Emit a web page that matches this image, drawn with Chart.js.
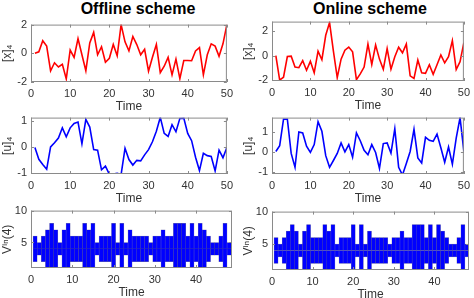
<!DOCTYPE html>
<html>
<head>
<meta charset="utf-8">
<script src="https://cdn.jsdelivr.net/npm/chart.js@4.4.1/dist/chart.umd.min.js"></script>
<style>
  body { margin: 0; background: #fff; width: 474px; height: 298px; position: relative; overflow: hidden; }
  canvas { position: absolute; }
  .title { position: absolute; font: bold 16px "Liberation Sans", Arial, sans-serif; color: #000; text-align: center; width: 200px; line-height: 18px; }
</style>
</head>
<body>
<div class="title" style="left:38px;top:0px">Offline scheme</div>
<div class="title" style="left:270px;top:0px">Online scheme</div>
<canvas id="xOff"></canvas>
<canvas id="xOn"></canvas>
<canvas id="uOff"></canvas>
<canvas id="uOn"></canvas>
<canvas id="vOff"></canvas>
<canvas id="vOn"></canvas>
<script>
// time steps 1..50
const times = Array.from({ length: 50 }, (_, i) => i + 1);

// [x]_4, offline and online
const xOffline = [0.0, 0.1, 0.88, 0.5, -1.22, -0.66, -0.95, -0.77, -1.78, 0.23,
  -0.28, 1.02, -0.1, -1.22, 0.72, 1.46, -0.1, 0.46, -0.62, -0.35,
  0.62, -0.17, 2.0, 0.8, 0.17, 1.17, 0.61, -0.1, 0.28, -1.24,
  -0.28, 0.62, -1.35, -0.9, -0.28, -1.5, -0.4, -1.76, -0.5, -0.5,
  -0.52, 0.17, 0.4, -1.5, -0.1, 0.66, 0.5, -0.21, 0.66, 2.0];
const xOnline = [0.0, -2.0, -1.77, -0.08, -0.05, -0.94, -0.99, -0.42, -1.2, -0.47,
  -1.4, 0.36, -0.34, 1.66, 2.7, 0.36, -1.8, -0.29, 0.44, 0.7,
  0.31, -1.97, -1.5, -0.94, 0.94, -0.73, 0.86, -0.29, -1.12, 0.57,
  -1.12, -0.1, 0.68, 0.23, 0.94, -1.66, -1.87, -0.36, -1.4, -1.45,
  -0.75, -1.53, -0.75, 0.05, -0.6, -0.1, 1.22, -1.14, -0.5, 1.06];

// [u]_4, offline and online
const uOffline = [-0.02, -0.47, -0.67, -0.85, 0.0, 0.16, 0.34, 0.73, 0.39, 0.73,
  0.9, 0.95, 0.12, 1.05, 0.76, -0.1, -0.12, -0.87, -0.73, -1.04,
  -1.03, -1.0, -1.05, -0.05, -0.48, -0.69, -0.51, -0.53, -0.3, -0.1,
  0.2, 0.6, 1.13, 0.52, 0.4, 0.85, 0.58, 1.09, 1.1, 0.52,
  0.24, -0.39, -0.9, -0.24, -0.33, -0.36, -0.91, -0.12, -0.41, -0.02];
const uOnline = [0.02, 0.31, 1.62, 1.62, -0.08, -0.77, 0.99, 0.94, 0.28, -0.03,
  0.36, 1.5, 1.02, -0.19, -0.77, -0.43, -0.08, 0.44, 0.0, 0.36,
  -0.27, 0.94, 0.55, 0.08, -0.14, 0.36, -0.03, -0.82, 0.41, 0.44,
  -0.06, 1.15, -0.77, -1.15, -0.58, 0.02, 1.12, -0.3, -0.55, 0.72,
  0.57, 0.52, 0.88, 0.2, -0.52, 0.24, -0.61, 0.68, 1.7, 0.02];

// V^in(4): interval centre and half-width per time step
const vinCentre = 4;
const vinSteps = Array.from({ length: 48 }, (_, i) => i + 1);
const vinHalf = [2, 1, 2, 3, 4, 3, 1, 3, 4, 2,
  2, 2, 4, 3, 4, 1, 2, 2, 2, 4,
  1, 4, 1, 3, 2, 2, 2, 2, 1, 2,
  2, 3, 2, 2, 4, 4, 4, 2, 4, 2,
  4, 3, 2, 1, 1, 2, 4, 1];

const xTicksLine = [0, 10, 20, 30, 40, 50];
const xTicksBar = [0, 10, 20, 30, 40];

const FONT = '"Liberation Sans", "DejaVu Sans", Arial, sans-serif';
const TXT = '#333';

const boxPlugin = {
  id: 'box',
  afterDraw(chart) {
    const { ctx, chartArea: a, scales: { x, y } } = chart;
    ctx.save();
    ctx.strokeStyle = '#8a8a8a';
    ctx.lineWidth = 1;
    ctx.beginPath();
    x.ticks.forEach(t => {
      const px = Math.round(x.getPixelForValue(t.value)) + 0.5;
      ctx.moveTo(px, a.bottom); ctx.lineTo(px, a.bottom - 3);
      ctx.moveTo(px, a.top); ctx.lineTo(px, a.top + 3);
    });
    y.ticks.forEach(t => {
      const py = Math.round(y.getPixelForValue(t.value)) + 0.5;
      ctx.moveTo(a.left, py); ctx.lineTo(a.left + 3, py);
      ctx.moveTo(a.right, py); ctx.lineTo(a.right - 3, py);
    });
    ctx.stroke();
    ctx.strokeRect(a.left + 0.5, a.top + 0.5, a.width - 1, a.height - 1);
    ctx.restore();
  }
};

function axes(xr, yr, xt, yt, yLabel) {
  return {
    x: {
      type: 'linear', min: xr[0], max: xr[1], offset: false,
      afterBuildTicks: s => { s.ticks = xt.map(v => ({ value: v })); },
      afterFit: s => { s.height = 32; },
      grid: { display: false, drawTicks: false },
      border: { display: false },
      ticks: { padding: 5, color: TXT, font: { family: FONT, size: 11 }, maxRotation: 0, callback: v => String(v) },
      title: { display: true, text: 'Time', color: TXT, font: { family: FONT, size: 12 }, padding: { top: 0, bottom: 0 } }
    },
    y: {
      min: yr[0], max: yr[1],
      afterBuildTicks: s => { s.ticks = yt.map(v => ({ value: v })); },
      afterFit: s => { s.width = 31; },
      grid: { display: false, drawTicks: false },
      border: { display: false },
      ticks: { padding: 4, color: TXT, font: { family: FONT, size: 11 }, callback: v => String(v) },
      title: { display: true, text: yLabel, color: TXT, font: { family: FONT, size: 12 }, padding: { top: 0, bottom: 2 } }
    }
  };
}

function place(id, r) {
  const c = document.getElementById(id);
  c.width = r.r - r.l + 31 + 6;
  c.height = r.b - r.t + 8 + 32;
  c.style.left = (r.l - 31) + 'px';
  c.style.top = (r.t - 8) + 'px';
  return c;
}

function lineChart(id, r, values, color, yr, yt, yLabel) {
  new Chart(place(id, r), {
    type: 'line',
    data: {
      datasets: [{
        data: times.map((t, i) => ({ x: t, y: values[i] })),
        borderColor: color, borderWidth: 1.6, pointRadius: 0, tension: 0, fill: false
      }]
    },
    options: {
      responsive: false, animation: false,
      layout: { padding: { left: 0, right: 6, top: 8, bottom: 0 } },
      plugins: { legend: { display: false }, tooltip: { enabled: false } },
      scales: axes([0, 50], yr, xTicksLine, yt, yLabel)
    },
    plugins: [boxPlugin]
  });
}

function vinChart(id, r, xMax) {
  const lower = vinSteps.map((t, i) => ({ x: t, y: [vinCentre - vinHalf[i], vinCentre] }));
  const upper = vinSteps.map((t, i) => ({ x: t, y: [vinCentre, vinCentre + vinHalf[i]] }));
  const style = {
    backgroundColor: '#0000ff', borderColor: 'rgba(0,0,110,0.55)', borderWidth: 0.5,
    barPercentage: 1, categoryPercentage: 1, grouped: false, borderSkipped: false
  };
  new Chart(place(id, r), {
    type: 'bar',
    data: { datasets: [Object.assign({ data: lower }, style), Object.assign({ data: upper }, style)] },
    options: {
      responsive: false, animation: false,
      layout: { padding: { left: 0, right: 6, top: 8, bottom: 0 } },
      plugins: { legend: { display: false }, tooltip: { enabled: false } },
      scales: axes([0, xMax], [1, 10], xTicksBar, [5, 10], 'V\u2071\u207F(4)')
    },
    plugins: [boxPlugin]
  });
}

lineChart('xOff', { l: 31, t: 22, r: 232, b: 82 }, xOffline, '#ff0000', [-2, 2], [-2, 0, 2], '[x]\u2084');
lineChart('xOn', { l: 272, t: 19, r: 469, b: 81 }, xOnline, '#ff0000', [-2.08, 2.78], [-2, 0, 2], '[x]\u2084');
lineChart('uOff', { l: 31, t: 115, r: 232, b: 174 }, uOffline, '#0000ff', [-1.03, 1.12], [-1, 0, 1], '[u]\u2084');
lineChart('uOn', { l: 272, t: 115, r: 469, b: 174 }, uOnline, '#0000ff', [-1.1, 1.7], [-1, 0, 1], '[u]\u2084');
vinChart('vOff', { l: 31, t: 208, r: 232, b: 268 }, 48.7);
vinChart('vOn', { l: 272, t: 209, r: 469, b: 270 }, 48.5);
</script>
</body>
</html>
